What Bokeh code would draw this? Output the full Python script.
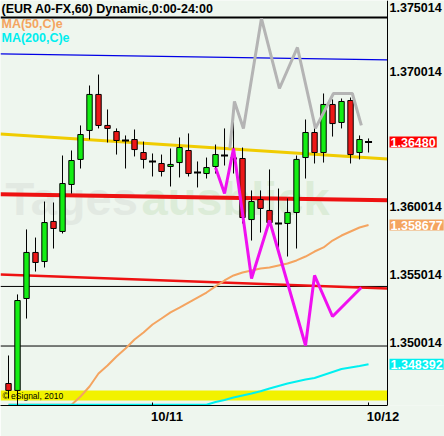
from bokeh.plotting import figure
from bokeh.models import (ColumnDataSource, FixedTicker, PrintfTickFormatter, LinearAxis,
                          Label, BoxAnnotation)
from bokeh.core.properties import value
from bokeh.embed import file_html
from bokeh.resources import INLINE
import pandas as pd

# ---------------------------------------------------------------- data
TITLE = "(EUR A0-FX,60) Dynamic,0:00-24:00"

# hourly bars, 10 Oct 2010 08:00 .. 12 Oct 2010 00:00
bar_times = pd.date_range("2010-10-10 08:00", periods=41, freq="h")

opens = [1.34697, 1.34646, 1.35325, 1.35665, 1.35598, 1.35894, 1.35820, 1.36167, 1.36352, 1.36566,
         1.36832, 1.36603, 1.36558, 1.36492, 1.36499, 1.36403, 1.36337, 1.36322, 1.36300, 1.36329,
         1.36418, 1.36256, 1.36248, 1.36300, 1.36381, 1.36359, 1.36359, 1.35908, 1.36056, 1.35975,
         1.35879, 1.35879, 1.35960, 1.36366, 1.36551, 1.36403, 1.36758, 1.36625, 1.36787, 1.36403,
         1.36480]
highs = [1.34904, 1.35355, 1.35835, 1.35775, 1.36041, 1.36034, 1.36381, 1.36418, 1.36603, 1.36898,
         1.36979, 1.36721, 1.36581, 1.36529, 1.36573, 1.36484, 1.36396, 1.36388, 1.36433, 1.36514,
         1.36544, 1.36337, 1.36366, 1.36462, 1.36581, 1.36736, 1.36440, 1.36123, 1.36123, 1.36278,
         1.36137, 1.36064, 1.36381, 1.36647, 1.36647, 1.36839, 1.36795, 1.36802, 1.36809, 1.36529,
         1.36507]
lows = [1.34586, 1.34530, 1.35177, 1.35524, 1.35554, 1.35694, 1.35805, 1.36100, 1.36285, 1.36499,
        1.36581, 1.36477, 1.36388, 1.36285, 1.36374, 1.36285, 1.36226, 1.36226, 1.36152, 1.36219,
        1.36226, 1.36145, 1.36211, 1.36248, 1.36307, 1.36248, 1.35879, 1.35753, 1.35812, 1.35864,
        1.35657, 1.35635, 1.35694, 1.36211, 1.36322, 1.36329, 1.36521, 1.36581, 1.36322, 1.36352,
        1.36403]
closes = [1.34646, 1.35310, 1.35665, 1.35591, 1.35886, 1.35842, 1.36174, 1.36344, 1.36536, 1.36832,
          1.36603, 1.36581, 1.36492, 1.36492, 1.36425, 1.36352, 1.36337, 1.36263, 1.36315, 1.36440,
          1.36248, 1.36256, 1.36292, 1.36388, 1.36381, 1.36359, 1.35923, 1.36041, 1.35990, 1.35886,
          1.35879, 1.35960, 1.36352, 1.36551, 1.36403, 1.36758, 1.36617, 1.36780, 1.36388, 1.36499,
          1.36480]

# moving averages (values below the visible range sit on the chart floor)
ma50 = [1.34540, 1.34540, 1.34540, 1.34540, 1.34540, 1.34540, 1.34540, 1.34540, 1.34601, 1.34675,
        1.34771, 1.34830, 1.34897, 1.34956, 1.35022, 1.35074, 1.35133, 1.35177, 1.35222, 1.35258,
        1.35295, 1.35332, 1.35369, 1.35414, 1.35458, 1.35495, 1.35517, 1.35532, 1.35547, 1.35554,
        1.35569, 1.35583, 1.35606, 1.35635, 1.35672, 1.35702, 1.35753, 1.35790, 1.35820, 1.35849,
        1.358677]
ma200 = [1.34540, 1.34540, 1.34540, 1.34540, 1.34540, 1.34540, 1.34540, 1.34540, 1.34540, 1.34540,
         1.34540, 1.34540, 1.34540, 1.34540, 1.34540, 1.34540, 1.34540, 1.34540, 1.34540, 1.34540,
         1.34540, 1.34540, 1.34540, 1.34561, 1.34575, 1.34594, 1.34609, 1.34623, 1.34640, 1.34660,
         1.34679, 1.34697, 1.34712, 1.34727, 1.34738, 1.34760, 1.34782, 1.34804, 1.34815, 1.34826,
         1.348392]

# "Dynamic" swing paths (bar position, price)
gray_x = [24.6, 25.1, 26.1, 28.1, 30.1, 32.1, 34.1, 36.1, 38.2, 39.2]
gray_y = [1.36433, 1.36780, 1.36581, 1.37393, 1.36876, 1.37179, 1.36581, 1.36839, 1.36839, 1.36603]
magenta_x = [23, 24, 25, 27, 29, 33, 34, 36, 39.2]
magenta_y = [1.36292, 1.36100, 1.36433, 1.35473, 1.35901, 1.34978, 1.35495, 1.35192, 1.35406]

# straight trend lines: price at the left and right edge of the chart
trend_yellow = (1.36540, 1.36355)
trend_blue = (1.37132, 1.37088)
trend_red_upper = (1.36095, 1.36051)
trend_red_lower = (1.35502, 1.35399)

# horizontal levels and the highlighted zone
levels = [1.37400, 1.35414, 1.34974]
zone = (1.34571, 1.34646)

price_ticks = [1.350014, 1.355014, 1.360014, 1.370014, 1.375014]

# ---------------------------------------------------------------- figure
BG = "#eef6ee"
FRAME_H = 405
x_lo, x_edge, x_hi = -0.89, 42.11, 48.44   # chart area ends at x_edge, price scale beyond
y_lo, y_hi = 1.345347, 1.375258

p = figure(width=444, height=436, x_range=(x_lo, x_hi), y_range=(y_lo, y_hi),
           y_axis_location=None, output_backend="svg", toolbar_location=None,
           min_border_left=0, min_border_right=0, min_border_top=0,
           min_border_bottom=436 - FRAME_H,
           background_fill_color=BG, border_fill_color=BG, outline_line_color=None)
p.grid.visible = False

# watermark
p.add_layout(Label(x=5, y=207, x_units="screen", y_units="screen", text="Tages",
                   text_font="Liberation Sans", text_font_size="47px", text_font_style="bold",
                   text_color="#e2e9e2", text_baseline="alphabetic", level="underlay"))
p.add_layout(Label(x=141, y=207, x_units="screen", y_units="screen", text="ausblick",
                   text_font="Liberation Sans", text_font_size="47px", text_font_style="bold",
                   text_color="#dcecd8", text_baseline="alphabetic", level="underlay"))

# highlighted zone near the floor
p.add_layout(BoxAnnotation(bottom=zone[0], top=zone[1], left=x_lo, right=x_edge,
                           fill_color="#f2f200", fill_alpha=1, line_color=None, level="underlay"))

# horizontal levels
n_lv = len(levels)
p.segment(x0=[x_lo] * n_lv, x1=[x_edge] * n_lv, y0=levels, y1=levels, line_color="black",
          line_width=[2] + [1] * (n_lv - 1))

# trend lines
edges = [x_lo, x_edge]
p.line(edges, list(trend_blue), line_color="#0000e6", line_width=1.3)
p.line(edges, list(trend_yellow), line_color="#f0cc00", line_width=3)
p.line(edges, list(trend_red_upper), line_color="#ee1111", line_width=4)
p.line(edges, list(trend_red_lower), line_color="#ee1111", line_width=2.5)

# moving averages
idx = list(range(len(bar_times)))
p.line(idx, ma50, line_color="#f4a460", line_width=2)
p.line(idx, ma200, line_color="#00f0f0", line_width=2)

# candles
body_top = [max(o, c) for o, c in zip(opens, closes)]
body_bot = [min(o, c) for o, c in zip(opens, closes)]
colors = ["#14ee14" if c > o else "#ec1818" for o, c in zip(opens, closes)]
src = ColumnDataSource(dict(x=idx, o=opens, h=highs, l=lows, c=closes,
                            top=body_top, bot=body_bot, color=colors))
p.segment(x0="x", y0="l", x1="x", y1="h", source=src, line_color="black", line_width=1)
bodies = [i for i in idx if opens[i] != closes[i]]
dojis = [i for i in idx if opens[i] == closes[i]]
p.vbar(x=[idx[i] for i in bodies], width=0.6, top=[body_top[i] for i in bodies],
       bottom=[body_bot[i] for i in bodies], fill_color=[colors[i] for i in bodies],
       line_color="black", line_width=1)
p.scatter(x=[idx[i] for i in dojis], y=[closes[i] for i in dojis], marker="dash",
          size=7, line_color="black", line_width=2)

# swing paths
p.line(gray_x, gray_y, line_color="#b4b4b4", line_width=3)
p.line(magenta_x, magenta_y, line_color="#f010f0", line_width=3)

# ---------------------------------------------------------------- axes
# date labels sit just right of the midnight tick
NBSP = "\u00a0" * 8
midnights = [i for i, t in enumerate(bar_times) if t.hour == 0]
p.xaxis.ticker = FixedTicker(ticks=midnights)
p.xaxis.major_label_overrides = {i: NBSP + bar_times[i].strftime("%m/%d") for i in midnights}
p.xaxis.bounds = (x_lo, x_edge)
p.xaxis.major_label_text_font = "Liberation Sans"
p.xaxis.major_label_text_font_size = "13px"
p.xaxis.major_label_text_font_style = "bold"
p.xaxis.major_label_text_color = "black"
p.xaxis.major_label_standoff = 3
p.xaxis.major_tick_in = 3
p.xaxis.major_tick_out = 0
p.xaxis.minor_tick_line_color = None
p.xaxis.axis_line_color = "black"

# price axis pinned to the right edge of the chart area; the top label kept inside
top_pos = min(price_ticks[-1], y_hi - 0.00055)
ticks = price_ticks[:-1] + [top_pos]
yaxis = LinearAxis(fixed_location=x_edge,
                   ticker=FixedTicker(ticks=ticks),
                   formatter=PrintfTickFormatter(format="%.6f"),
                   major_label_overrides={top_pos: f"{price_ticks[-1]:.6f}"},
                   major_label_text_font="Liberation Sans",
                   major_label_text_font_size="12.5px",
                   major_label_text_font_style="bold",
                   major_label_text_color="black",
                   major_label_standoff=2,
                   major_tick_in=0, major_tick_out=0,
                   minor_tick_line_color=None, axis_line_color="black")
p.add_layout(yaxis, "right")

# value markers on the price scale: last close, MA(50), MA(200)
mk_vals = [closes[-1], ma50[-1], ma200[-1]]
markers = ColumnDataSource(dict(
    x=[x_edge] * 3, y=mk_vals,
    txt=[f"{closes[-1]:.5f}", f"{ma50[-1]:.6f}", f"{ma200[-1]:.6f}"],
    bg=["#ff0000", "#f4a460", "#00f0f0"]))
p.text(x="x", y="y", text="txt", source=markers, x_offset=2, text_align="left",
       text_baseline="middle", text_color="white", background_fill_color="bg", padding=1,
       text_font=value("Liberation Sans"), text_font_size="12.5px", text_font_style="bold")

# header texts
for txt, col, ypos in [(TITLE, "black", 397), ("MA(50,C)e", "#f4a460", 382),
                       ("MA(200,C)e", "#00eeee", 367.5)]:
    p.add_layout(Label(x=1, y=ypos, x_units="screen", y_units="screen", text=txt,
                       text_color=col, text_font="Liberation Sans", text_font_size="12.5px",
                       text_font_style="bold", text_baseline="middle"))

p.add_layout(Label(x=2, y=10, x_units="screen", y_units="screen", text="\u00a9 eSignal, 2010",
                   text_color="black", text_font="Liberation Sans", text_font_size="8.5px",
                   text_baseline="middle"))

open("out.html", "w").write(file_html(p, INLINE))
